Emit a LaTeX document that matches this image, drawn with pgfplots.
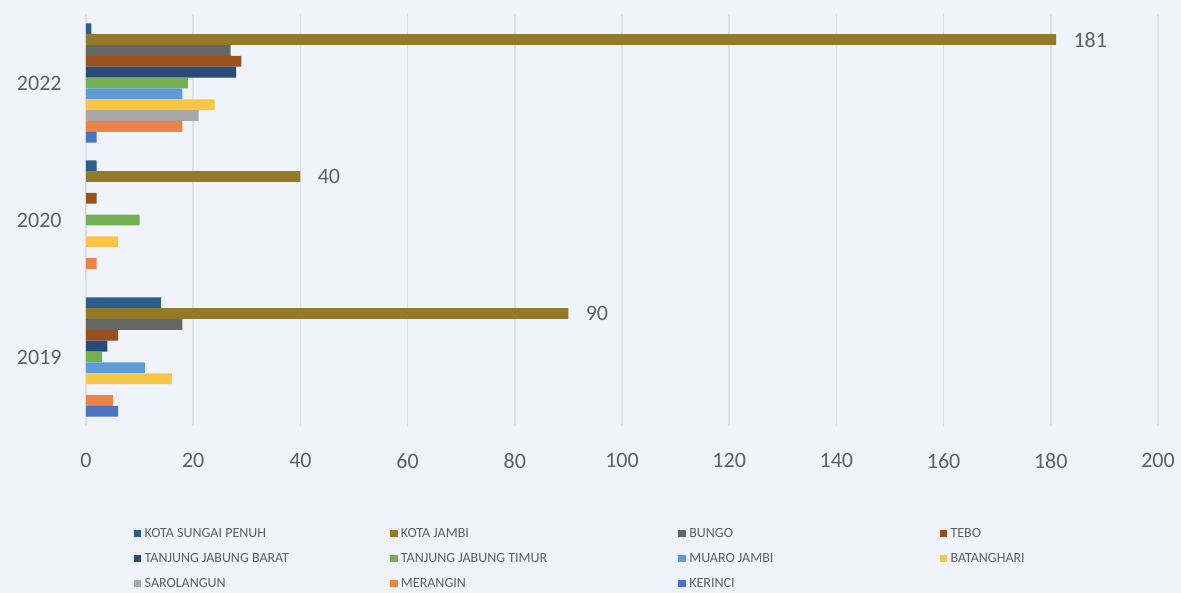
\documentclass[border=0pt]{standalone}
\usepackage{pgfplots}
\pgfplotsset{compat=1.18}
\usepackage{fontspec}
\setmainfont{Carlito}
\usetikzlibrary{backgrounds}
\definecolor{cKSP}{HTML}{2A5E8E}
\definecolor{cKJ}{HTML}{937A2A}
\definecolor{cBungo}{HTML}{666666}
\definecolor{cTebo}{HTML}{98501C}
\definecolor{cTJB}{HTML}{2A4A78}
\definecolor{cTJT}{HTML}{74AE55}
\definecolor{cMJ}{HTML}{5E9CD8}
\definecolor{cBat}{HTML}{F9C544}
\definecolor{cSar}{HTML}{A8A8A8}
\definecolor{cMer}{HTML}{EB8446}
\definecolor{cKer}{HTML}{4A74C2}
\definecolor{bgc}{HTML}{F0F3FA}
\definecolor{gridc}{HTML}{DFE2EA}
\definecolor{txt}{HTML}{606060}
\newcommand{\la}[1]{\makebox[122.75pt][l]{#1}}
\newcommand{\lb}[1]{\makebox[138.75pt][l]{#1}}
\newcommand{\lc}[1]{\makebox[125.25pt][l]{#1}}
\begin{document}
\begin{tikzpicture}[show background rectangle, inner frame sep=0pt,
  background rectangle/.style={fill=bgc, draw=none}]
\begin{axis}[
  width=536pt, height=205.5pt, scale only axis,
  xmin=0, xmax=200, ymin=-0.5, ymax=2.5,
  xtick={0,20,...,200}, ytick={0,1,2}, yticklabels={2019,2020,2022},
  xmajorgrids, major grid style={draw=gridc, line width=0.8pt},
  axis line style={draw=none}, major tick length=0pt,
  /pgf/number format/assume math mode=true,
  tick label style={font=\fontsize{11}{13}\selectfont, text=txt},
  xticklabel style={inner sep=0pt, anchor=north, yshift=-13.75pt},
  yticklabel style={inner sep=0pt, anchor=east, xshift=-12pt},
  xbar, bar width=5.4pt,
  every axis plot/.append style={draw=none},
  legend columns=4,
  legend cell align=left,
  legend image code/.code={\fill[#1] (0pt,-1.9pt) rectangle (3.8pt,1.9pt);},
  legend style={at={(axis description cs:0.0387,-0.237)}, anchor=north west,
    draw=none, fill=none, font=\fontsize{7}{8}\selectfont, text=txt,
    nodes={inner sep=0pt, text height=5pt, text depth=1pt},
    row sep=6.5pt,
    /tikz/every odd column/.style={column sep=1.6pt},
    /tikz/every even column/.style={column sep=0pt}},
]
\addplot[fill=cKSP, bar shift=27.125pt] coordinates {(14,0) (2,1) (1,2)};
\addlegendentry{\la{KOTA SUNGAI PENUH}}
\addplot[fill=cKJ, bar shift=21.7pt, nodes near coords,
  every node near coord/.append style={anchor=west, inner sep=0pt, xshift=8.5pt,
    font=\fontsize{11}{13}\selectfont, text=txt}] coordinates {(90,0) (40,1) (181,2)};
\addlegendentry{\lb{KOTA JAMBI}}
\addplot[fill=cBungo, bar shift=16.275pt] coordinates {(18,0) (0,1) (27,2)};
\addlegendentry{\lc{BUNGO}}
\addplot[fill=cTebo, bar shift=10.85pt] coordinates {(6,0) (2,1) (29,2)};
\addlegendentry{TEBO}
\addplot[fill=cTJB, bar shift=5.425pt] coordinates {(4,0) (0,1) (28,2)};
\addlegendentry{\la{TANJUNG JABUNG BARAT}}
\addplot[fill=cTJT, bar shift=0pt] coordinates {(3,0) (10,1) (19,2)};
\addlegendentry{\lb{TANJUNG JABUNG TIMUR}}
\addplot[fill=cMJ, bar shift=-5.425pt] coordinates {(11,0) (0,1) (18,2)};
\addlegendentry{\lc{MUARO JAMBI}}
\addplot[fill=cBat, bar shift=-10.85pt] coordinates {(16,0) (6,1) (24,2)};
\addlegendentry{BATANGHARI}
\addplot[fill=cSar, bar shift=-16.275pt] coordinates {(0,0) (0,1) (21,2)};
\addlegendentry{\la{SAROLANGUN}}
\addplot[fill=cMer, bar shift=-21.7pt] coordinates {(5,0) (2,1) (18,2)};
\addlegendentry{\lb{MERANGIN}}
\addplot[fill=cKer, bar shift=-27.125pt] coordinates {(6,0) (0,1) (2,2)};
\addlegendentry{\lc{KERINCI}}
\end{axis}
\pgfresetboundingbox
\path ([xshift=-43pt,yshift=-83.75pt]current axis.south west) rectangle ([xshift=11.5pt,yshift=7.25pt]current axis.north east);
\end{tikzpicture}
\end{document}
